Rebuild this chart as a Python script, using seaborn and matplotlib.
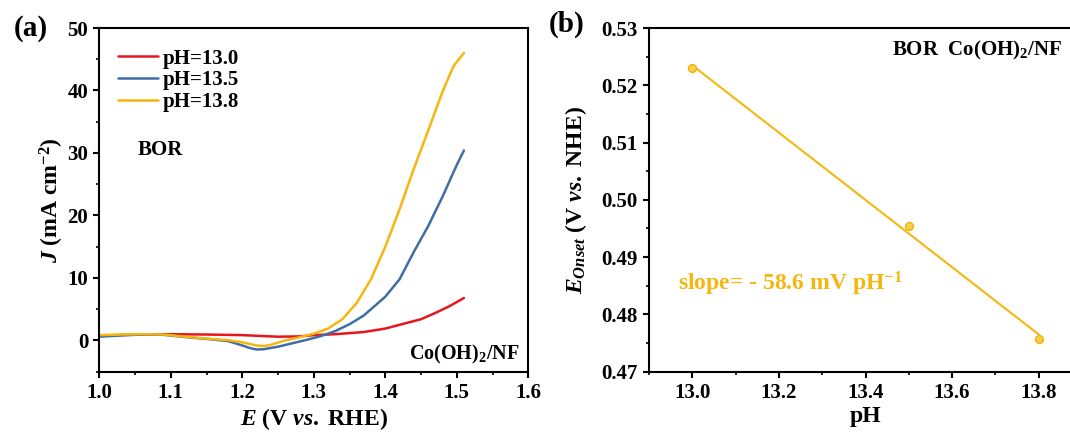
import numpy as np
import pandas as pd
import matplotlib
matplotlib.use("Agg")
import matplotlib.pyplot as plt
from matplotlib.ticker import MultipleLocator
import seaborn as sns

# ---------------- data ----------------
E_130 = [1.00, 1.05, 1.10, 1.15, 1.20, 1.25, 1.28, 1.30, 1.33, 1.37, 1.40, 1.42, 1.45, 1.47, 1.49, 1.51]
J_130 = [0.75, 0.95, 1.00, 0.95, 0.85, 0.60, 0.65, 0.85, 1.00, 1.35, 1.90, 2.50, 3.40, 4.40, 5.50, 6.80]

E_135 = [1.00, 1.03, 1.06, 1.09, 1.12, 1.15, 1.18, 1.20, 1.21, 1.22, 1.23, 1.25, 1.27, 1.29, 1.31,
         1.33, 1.35, 1.37, 1.40, 1.42, 1.44, 1.46, 1.48, 1.50, 1.51]
J_135 = [0.60, 0.80, 0.95, 0.90, 0.55, 0.25, -0.10, -0.80, -1.20, -1.45, -1.40, -1.00, -0.45, 0.10, 0.70,
         1.50, 2.60, 4.00, 7.00, 9.80, 14.2, 18.3, 23.0, 28.1, 30.4]

E_138 = [1.00, 1.03, 1.06, 1.09, 1.12, 1.15, 1.18, 1.20, 1.22, 1.23, 1.24, 1.26, 1.28, 1.30, 1.32,
         1.34, 1.36, 1.38, 1.40, 1.42, 1.44, 1.46, 1.48, 1.495, 1.50, 1.51]
J_138 = [0.85, 0.95, 1.00, 0.95, 0.60, 0.30, 0.05, -0.30, -0.80, -0.90, -0.70, 0.00, 0.50, 1.10, 1.90,
         3.40, 6.00, 9.80, 15.0, 21.0, 27.5, 33.6, 39.8, 43.8, 44.6, 46.0]

series_labels = ["pH=13.0", "pH=13.5", "pH=13.8"]
series_colors = ["#E8161C", "#3F6EA6", "#F5B70F"]

pH_vals = [13.0, 13.5, 13.8]
E_onset = [0.5230, 0.4954, 0.4757]

# ---------------- style ----------------
sns.set_theme(style="ticks")
plt.rcParams.update({
    "font.family": ["Liberation Serif", "DejaVu Serif"],
    "font.weight": "bold",
    "axes.labelweight": "bold",
    "mathtext.fontset": "custom",
    "mathtext.rm": "Liberation Serif:bold",
    "mathtext.bf": "Liberation Serif:bold",
    "mathtext.it": "Liberation Serif:italic:bold",
    "axes.linewidth": 1.5,
    "xtick.major.width": 1.5, "ytick.major.width": 1.5,
    "xtick.minor.width": 1.2, "ytick.minor.width": 1.2,
    "xtick.major.size": 4.5, "ytick.major.size": 4.5,
    "xtick.minor.size": 2.5, "ytick.minor.size": 2.5,
    "xtick.direction": "out", "ytick.direction": "out",
    "xtick.labelsize": 15, "ytick.labelsize": 15,
    "xtick.color": "black", "ytick.color": "black",
    "xtick.labelcolor": "black", "ytick.labelcolor": "black",
    "axes.edgecolor": "black",
    "axes.labelcolor": "black",
    "text.color": "black",
})

fig = plt.figure(figsize=(10.7, 4.36), dpi=100)
axA = fig.add_axes([99.3 / 1070, 1 - 371.7 / 436, 429 / 1070, 343.7 / 436])
axB = fig.add_axes([649 / 1070, 1 - 371.7 / 436, 433 / 1070, 343.7 / 436])

# ---------------- panel (a) ----------------
for E, J, lab, col in zip([E_130, E_135, E_138], [J_130, J_135, J_138], series_labels, series_colors):
    df = pd.DataFrame({"E": E, "J": J})
    sns.lineplot(data=df, x="E", y="J", ax=axA, color=col, lw=1.8, label=lab, sort=False)

axA.xaxis.set_minor_locator(MultipleLocator(0.05))
axA.yaxis.set_minor_locator(MultipleLocator(5))
xtA = [1.0, 1.1, 1.2, 1.3, 1.4, 1.5, 1.6]
axA.set_xticks(xtA)
axA.set_xticklabels([f"{v:.1f}" for v in xtA], fontweight="bold")
ytA = [0, 10, 20, 30, 40, 50]
axA.set_yticks(ytA)
axA.set_yticklabels([str(v) for v in ytA], fontweight="bold")
axA.set_xlim(1.0, 1.6)
axA.set_ylim(-5, 50)
axA.set_xlabel(r"$\mathit{E}$ (V $\mathit{vs.}$ RHE)", fontsize=17, fontweight="bold", labelpad=2)
axA.set_ylabel(r"$\mathit{J}$ (mA cm$^{-2}$)", fontsize=17, fontweight="bold", labelpad=1)
for s in axA.spines.values():
    s.set_visible(True)

leg = axA.legend(loc="upper left", bbox_to_anchor=(0.044, 0.94), frameon=False,
                 fontsize=15, handlelength=1.9, handletextpad=0.25, labelspacing=0.08,
                 borderpad=0, borderaxespad=0)
for t in leg.get_texts():
    t.set_fontweight("bold")
    t.set_color("black")

axA.text(0.09, 0.645, "BOR", transform=axA.transAxes, fontsize=15, fontweight="bold",
         ha="left", va="center", color="black")
axA.text(0.98, 0.05, r"Co(OH)$_{2}$/NF", transform=axA.transAxes, fontsize=14.5,
         fontweight="bold", ha="right", va="center", color="black")
fig.text(31 / 1070, 1 - 29 / 436, "(a)", fontsize=21, fontweight="bold", ha="center", va="center",
         color="black")

# ---------------- panel (b) ----------------
dfB = pd.DataFrame({"pH": pH_vals, "E": E_onset})
sns.regplot(data=dfB, x="pH", y="E", ax=axB, ci=None, truncate=True,
            line_kws={"color": "#F5B70F", "lw": 1.5},
            scatter_kws={"s": 32, "facecolor": "#F9CF4F", "edgecolor": "#F2B200",
                         "linewidths": 1.0, "zorder": 3, "alpha": 1})
axB.xaxis.set_minor_locator(MultipleLocator(0.1))
axB.yaxis.set_minor_locator(MultipleLocator(0.005))
xt = [13.0, 13.2, 13.4, 13.6, 13.8]
axB.set_xticks(xt)
axB.set_xticklabels([f"{v:.1f}" for v in xt], fontweight="bold")
yt = [0.47, 0.48, 0.49, 0.50, 0.51, 0.52, 0.53]
axB.set_yticks(yt)
axB.set_yticklabels([f"{v:.2f}" for v in yt], fontweight="bold")
axB.set_xlim(12.9, 13.9)
axB.set_ylim(0.47, 0.53)
axB.set_xlabel("pH", fontsize=17, fontweight="bold", labelpad=2)
axB.set_ylabel(r"$\mathit{E}_{\mathit{Onset}}$ (V $\mathit{vs.}$ NHE)", fontsize=17,
               fontweight="bold", labelpad=9)

axB.text(891.7 / 1070, 1 - 50 / 436, r"BOR  Co(OH)$_{2}$/NF", transform=fig.transFigure,
         fontsize=15, fontweight="bold", ha="left", va="center", color="black")
axB.text(12.967, 0.4854, r"slope= - 58.6 mV pH$^{-1}$", fontsize=17, fontweight="bold",
         color="#F5B70F", ha="left", va="center")
fig.text(567 / 1070, 1 - 24 / 436, "(b)", fontsize=21, fontweight="bold", ha="center", va="center",
         color="black")

fig.savefig("out.png", dpi=100)
